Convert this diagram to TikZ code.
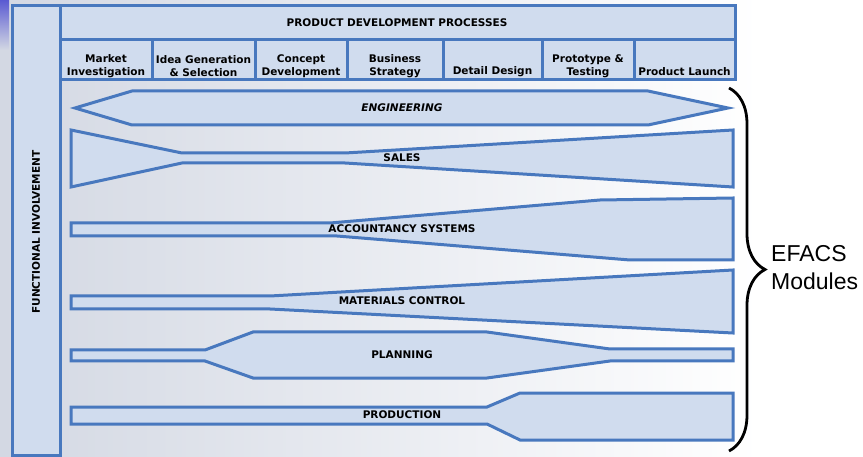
\documentclass[tikz,border=0pt]{standalone}
\usepackage{fontspec}
\setmainfont{DejaVu Sans}
\newfontfamily\efacsfont{Liberation Sans}
\usepackage{xcolor}
\usepackage{tikz}
\usetikzlibrary{decorations.pathreplacing}
\definecolor{boxfill}{HTML}{D0DCEE}
\definecolor{boxline}{HTML}{4878BE}
\definecolor{panel}{HTML}{D3D8E3}
\definecolor{slide}{HTML}{5A5AD2}

\begin{document}
\begin{tikzpicture}[x=1pt,y=-1pt,
	frame/.style={draw=boxline,fill=boxfill,line width=3pt},
	band/.style={draw=boxline,fill=boxfill,line width=3pt,line join=miter},
	lbl/.style={font=\fontsize{10.5}{13}\selectfont\bfseries,inner sep=0pt},
	phase/.style={lbl,align=center},
	brc/.style={decorate,decoration={brace,amplitude=36pt},line width=2.8pt}]
	\useasboundingbox (0,0) rectangle (863,457);
	\shade[left color=panel,right color=white] (0,0) rectangle (760,457);
	\shade[top color=slide,bottom color=panel] (0,0) rectangle (9,50);
	
	\draw[frame] (12,6) rectangle (60,455);
	\node[lbl,rotate=90] (func) at (36,232) {FUNCTIONAL INVOLVEMENT};
	\draw[frame] (60,6) rectangle (735,40);
	\node[lbl] (pdp) at (397,23) {PRODUCT DEVELOPMENT PROCESSES};
	\foreach \xa/\xb/\yt/\name/\txt in {60/152/66/mkt/{Market\\Investigation},
		152/255/66/idea/{Idea Generation\\\& Selection},
		255/347/66/cpt/{Concept\\Development},
		347/443/66/bus/{Business\\Strategy},
		443/542/72/det/{Detail Design},
		542/634/66/proto/{Prototype \&\\Testing},
		634/735/72/launch/{Product Launch}}{
		\draw[frame] (\xa,40) rectangle (\xb,80);
		\node[phase] (\name) at ({(\xa+\xb)/2},\yt) {\txt};
	}
	
	\draw[band] (75,108) -- (132,91) -- (648,91) -- (728,108) -- (648,125) -- (132,125) -- cycle;
	\node[lbl] (eng) at (402,108) {\itshape ENGINEERING};
	\draw[band] (71,130) -- (182,153) -- (345,153) -- (733,130) -- (733,187) -- (345,163) -- (182,163) -- (71,187) -- cycle;
	\node[lbl] (sales) at (402,158) {SALES};
	\draw[band] (71,223) -- (330,223) -- (600,200) -- (733,198) -- (733,260) -- (630,260) -- (337,236) -- (71,236) -- cycle;
	\node[lbl] (acc) at (402,229) {ACCOUNTANCY SYSTEMS};
	\draw[band] (71,296) -- (270,296) -- (733,270) -- (733,333) -- (270,309) -- (71,309) -- cycle;
	\node[lbl] (mat) at (402,301) {MATERIALS CONTROL};
	\draw[band] (71,350) -- (205,350) -- (253,332) -- (487,332) -- (610,349) -- (733,349) -- (733,361) -- (610,361) -- (487,378) -- (253,378) -- (205,361) -- (71,361) -- cycle;
	\node[lbl] (plan) at (402,355) {PLANNING};
	\draw[band] (71,407) -- (487,407) -- (520,393) -- (733,393) -- (733,440) -- (520,440) -- (487,424) -- (71,424) -- cycle;
	\node[lbl] (prod) at (402,415) {PRODUCTION};
	
	\coordinate (btop) at (729,88);
	\coordinate (bbot) at (729,451);
	\draw[brc] (btop) -- (bbot);
	\node[font=\efacsfont\fontsize{23}{28}\selectfont,align=left,anchor=west,inner sep=0pt] (efacs) at (771,268) {EFACS\\Modules};
\end{tikzpicture}
\end{document}
